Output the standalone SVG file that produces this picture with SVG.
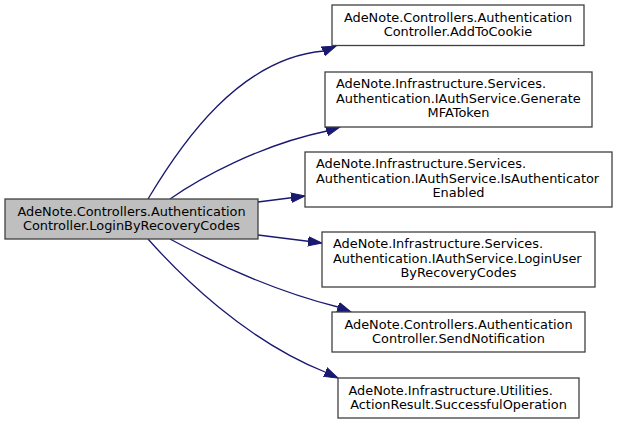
<svg xmlns="http://www.w3.org/2000/svg" width="617" height="424" viewBox="0 0 617 424">
<defs>
<style>
.node rect{fill:#ffffff;stroke:#404040;stroke-width:1.3}
.main rect{fill:#bfbfbf}
text{font-family:"DejaVu Sans","Liberation Sans",sans-serif;font-size:12.9px;fill:#000000}
.m{text-anchor:middle}
.edges path{fill:none;stroke:#191970;stroke-width:1.3;marker-end:url(#arr)}
</style>
<marker id="arr" markerUnits="userSpaceOnUse" markerWidth="16" markerHeight="12" refX="14" refY="5" orient="auto" viewBox="0 0 16 10">
<path d="M0,0.3 L14,5 L0,9.7 Z" fill="#191970" stroke="#191970" stroke-width="1"/>
</marker>
</defs>
<rect width="617" height="424" fill="#ffffff"/>
<g class="edges">
<path d="M148,199 C182,142 240,58 324,51 L336,46"/>
<path d="M170,199 C200,178 260,145 327,131 L340,127"/>
<path d="M258,202 L305,196"/>
<path d="M258,235 L322,243"/>
<path d="M170,239 C205,258 270,290 338,307 L351,312"/>
<path d="M148,239 C180,275 245,340 325,372 L338,378"/>
</g>
<g id="node_main" class="node main">
<rect x="5" y="199" width="253" height="40"/>
<text class="m" x="131.5" y="215.5">AdeNote.Controllers.Authentication</text>
<text class="m" x="131.5" y="230">Controller.LoginByRecoveryCodes</text>
</g>
<g id="node_addtocookie" class="node">
<rect x="332" y="5" width="252" height="40.5"/>
<text class="m" x="458" y="21.5">AdeNote.Controllers.Authentication</text>
<text class="m" x="458" y="36">Controller.AddToCookie</text>
</g>
<g id="node_generatemfatoken" class="node">
<rect x="325" y="72" width="267" height="55"/>
<text x="336" y="88">AdeNote.Infrastructure.Services.</text>
<text x="336" y="102.5">Authentication.IAuthService.Generate</text>
<text class="m" x="458.5" y="117">MFAToken</text>
</g>
<g id="node_isauthenticatorenabled" class="node">
<rect x="305" y="152" width="307" height="55"/>
<text x="316" y="168">AdeNote.Infrastructure.Services.</text>
<text x="316" y="182.5">Authentication.IAuthService.IsAuthenticator</text>
<text class="m" x="458.5" y="197">Enabled</text>
</g>
<g id="node_loginuserbyrecoverycodes" class="node">
<rect x="322" y="232" width="273" height="55"/>
<text x="333" y="248">AdeNote.Infrastructure.Services.</text>
<text x="333" y="262.5">Authentication.IAuthService.LoginUser</text>
<text class="m" x="458.5" y="277">ByRecoveryCodes</text>
</g>
<g id="node_sendnotification" class="node">
<rect x="332" y="312" width="253" height="40"/>
<text class="m" x="458.5" y="328.5">AdeNote.Controllers.Authentication</text>
<text class="m" x="458.5" y="343">Controller.SendNotification</text>
</g>
<g id="node_successfuloperation" class="node">
<rect x="338" y="378" width="241" height="40"/>
<text x="348.5" y="394.5">AdeNote.Infrastructure.Utilities.</text>
<text class="m" x="458.5" y="409">ActionResult.SuccessfulOperation</text>
</g>
</svg>
